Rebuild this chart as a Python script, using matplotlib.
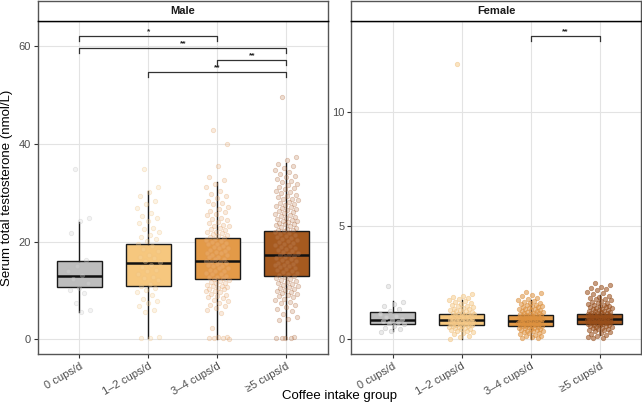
import matplotlib
matplotlib.use("Agg")
import matplotlib.pyplot as plt
import numpy as np

plt.rcParams['font.family'] = ['Liberation Sans', 'DejaVu Sans']

groups = ["0 cups/d", "1\u20132 cups/d", "3\u20134 cups/d", "\u22655 cups/d"]
panels = ["Male", "Female"]

# box statistics: (whislo, q1, med, q3, whishi)
male_box = [(5.6, 10.6, 12.9, 16.0, 24.0),
            (0.2, 11.0, 15.7, 19.4, 30.4),
            (0.1, 12.3, 15.95, 20.65, 32.2),
            (0.1, 12.95, 17.2, 22.2, 36.0)]
female_box = [(0.36, 0.66, 0.85, 1.20, 1.68),
              (0.01, 0.64, 0.85, 1.10, 1.73),
              (0.0, 0.60, 0.82, 1.07, 1.73),
              (0.19, 0.67, 0.88, 1.10, 1.95)]

# individual points (y values) read approximately
male_pts_0 = [34.8, 24.8, 24.3, 21.8, 16.2, 15.0, 13.9, 13.1, 12.4, 11.5, 10.5, 10.1, 9.4, 7.4, 6.1, 5.6]
male_pts_1 = [34.8, 31.2, 30.1, 29.4, 28.3, 27.6, 26.9, 25.8, 25.3, 24.9, 24.1, 23.7, 22.8, 22.5, 21.9,
              21.4, 20.9, 20.6, 20.1, 19.5, 19.1, 18.4, 18.0, 17.3, 16.9, 16.6, 16.1, 15.8, 15.1, 14.7,
              14.2, 13.9, 13.3, 12.8, 12.6, 12.1, 11.4, 10.9, 10.4, 10.1, 9.6, 9.1, 8.3, 7.9, 7.4,
              6.8, 6.1, 5.6, 0.4, 0.3, 0.2]
male_pts_2 = [42.8, 39.9, 35.4, 33.1, 32.6, 31.7, 31.1, 30.3, 29.8, 29.4, 28.9, 28.3, 27.8, 27.6, 27.1,
              26.7, 26.3, 26.1, 25.6, 25.4, 24.9, 24.6, 24.5, 24.0, 23.8, 23.4, 23.2, 23.1, 22.7, 22.6,
              22.3, 22.0, 21.9, 21.7, 21.5, 21.3, 21.1, 20.9, 20.8, 20.5, 20.3, 20.2, 19.9, 19.8, 19.5,
              19.4, 19.1, 18.9, 18.7, 18.6, 18.3, 18.1, 17.9, 17.7, 17.6, 17.3, 17.2, 16.9, 16.8, 16.5,
              16.4, 16.1, 15.9, 15.8, 15.6, 15.4, 15.2, 15.0, 14.9, 14.6, 14.5, 14.2, 14.0, 13.9, 13.6,
              13.4, 13.3, 13.0, 12.8, 12.7, 12.5, 12.3, 12.1, 11.9, 11.8, 11.6, 11.5, 11.2, 11.0, 10.9,
              10.7, 10.5, 10.3, 10.2, 9.9, 9.8, 9.6, 9.3, 9.1, 8.9, 8.6, 8.4, 8.1, 7.8, 7.5, 7.1, 6.8,
              6.4, 6.0, 5.4, 2.3, 0.5, 0.4, 0.3, 0.2, 0.2, 0.1]
male_pts_3 = [49.6, 37.3, 36.6, 35.9, 35.4, 35.1, 34.6, 34.2, 33.9, 33.5, 33.1, 32.8, 32.4, 32.1, 31.8,
              31.5, 31.2, 30.9, 30.7, 30.4, 30.1, 29.9, 29.6, 29.3, 29.1, 28.8, 28.6, 28.4, 28.1, 27.9,
              27.7, 27.5, 27.2, 27.0, 26.8, 26.6, 26.4, 26.2, 26.0, 25.8, 25.6, 25.4, 25.2, 25.1, 24.9,
              24.7, 24.5, 24.3, 24.2, 24.0, 23.8, 23.6, 23.5, 23.3, 23.1, 22.9, 22.8, 22.6, 22.4, 22.3,
              22.1, 21.9, 21.7, 21.5, 21.3, 21.1, 20.9, 20.7, 20.5, 20.3, 20.1, 19.9, 19.7, 19.5, 19.3,
              19.1, 18.9, 18.7, 18.5, 18.3, 18.1, 17.9, 17.7, 17.5, 17.3, 17.1, 16.9, 16.7, 16.5, 16.3,
              16.1, 15.9, 15.7, 15.5, 15.3, 15.1, 14.9, 14.7, 14.5, 14.3, 14.1, 13.9, 13.7, 13.5, 13.3,
              13.1, 12.9, 12.7, 12.5, 12.3, 12.1, 11.9, 11.7, 11.5, 11.3, 11.1, 10.9, 10.7, 10.5, 10.3,
              10.1, 9.9, 9.7, 9.5, 9.3, 9.1, 8.9, 8.6, 8.3, 8.0, 7.7, 7.4, 7.0, 6.6, 6.2, 5.7, 5.2, 4.6,
              4.1, 3.9, 0.4, 0.3, 0.3, 0.2, 0.2]
female_pts_0 = [2.36, 1.62, 1.55, 1.45, 1.31, 1.22, 1.12, 1.02, 0.96, 0.91, 0.86, 0.81, 0.76, 0.71,
                0.66, 0.57, 0.51, 0.45, 0.38, 0.33]
female_pts_1 = [12.1, 2.01, 1.92, 1.86, 1.81, 1.76, 1.71, 1.66, 1.62, 1.58, 1.54, 1.51, 1.47, 1.44,
                1.41, 1.38, 1.35, 1.32, 1.29, 1.27, 1.24, 1.22, 1.19, 1.17, 1.15, 1.13, 1.11, 1.09,
                1.07, 1.05, 1.03, 1.01, 0.99, 0.97, 0.95, 0.94, 0.92, 0.90, 0.89, 0.87, 0.86, 0.84,
                0.83, 0.81, 0.80, 0.78, 0.77, 0.75, 0.74, 0.72, 0.71, 0.69, 0.68, 0.66, 0.65, 0.63,
                0.61, 0.60, 0.58, 0.56, 0.54, 0.52, 0.50, 0.48, 0.46, 0.44, 0.41, 0.38, 0.35, 0.31,
                0.27, 0.22, 0.16, 0.08, 0.02]
female_pts_2 = [2.09, 2.05, 1.96, 1.88, 1.82, 1.77, 1.72, 1.68, 1.64, 1.61, 1.58, 1.55, 1.52, 1.49,
                1.47, 1.44, 1.42, 1.40, 1.37, 1.35, 1.33, 1.31, 1.29, 1.27, 1.25, 1.23, 1.21, 1.19,
                1.17, 1.16, 1.14, 1.12, 1.10, 1.09, 1.07, 1.06, 1.04, 1.03, 1.01, 1.00, 0.98, 0.97,
                0.95, 0.94, 0.93, 0.91, 0.90, 0.89, 0.87, 0.86, 0.85, 0.83, 0.82, 0.81, 0.79, 0.78,
                0.77, 0.75, 0.74, 0.73, 0.71, 0.70, 0.69, 0.67, 0.66, 0.65, 0.63, 0.62, 0.60, 0.59,
                0.57, 0.56, 0.54, 0.53, 0.51, 0.49, 0.48, 0.46, 0.44, 0.42, 0.40, 0.38, 0.36, 0.34,
                0.31, 0.29, 0.26, 0.23, 0.20, 0.16, 0.12, 0.08, 0.05, 0.04]
female_pts_3 = [2.46, 2.38, 2.31, 2.26, 2.21, 2.15, 2.09, 2.03, 1.97, 1.92, 1.87, 1.83, 1.79, 1.75,
                1.71, 1.67, 1.64, 1.61, 1.58, 1.55, 1.52, 1.49, 1.47, 1.44, 1.42, 1.40, 1.38, 1.36,
                1.34, 1.32, 1.30, 1.28, 1.26, 1.24, 1.22, 1.20, 1.19, 1.17, 1.15, 1.14, 1.12, 1.11,
                1.09, 1.08, 1.06, 1.05, 1.03, 1.02, 1.01, 0.99, 0.98, 0.97, 0.95, 0.94, 0.93, 0.92,
                0.90, 0.89, 0.88, 0.87, 0.85, 0.84, 0.83, 0.82, 0.80, 0.79, 0.78, 0.76, 0.75, 0.74,
                0.72, 0.71, 0.70, 0.68, 0.67, 0.65, 0.64, 0.62, 0.61, 0.59, 0.57, 0.55, 0.53, 0.51,
                0.49, 0.47, 0.45, 0.42, 0.39, 0.36, 0.33, 0.29, 0.25, 0.20, 0.14, 0.09, 0.06, 0.04]

male_pts = [male_pts_0, male_pts_1, male_pts_2, male_pts_3]
female_pts = [female_pts_0, female_pts_1, female_pts_2, female_pts_3]

# significance brackets: (group i, group j, y, label)
male_sig = [(0, 2, 62.0, "*"), (0, 3, 59.5, "**"), (2, 3, 57.05, "**"), (1, 3, 54.6, "**")]
female_sig = [(2, 3, 13.34, "**")]

box_colors = ["#BDBDBD", "#F6C77E", "#E39A48", "#A65A1F"]
pt_edge = [["#B8B8B8", "#EDBB78", "#E09858", "#A65C30"],
           ["#C0C0C0", "#F0C080", "#DC903E", "#95501E"]]
pt_face = [["#DADADA", "#F6D8A8", "#EDBC90", "#C89068"],
           ["#DCDCDC", "#F6CF90", "#DE9240", "#9A4C18"]]

W, H = 642, 411
fig = plt.figure(figsize=(W / 100, H / 100), dpi=100)

panel_px = [(38.0, 327.7), (351.3, 641.0)]
top_px, bot_px = 21.0, 354.0
ylims = [(-3.0, 65.1), (-0.65, 14.0)]
yticks = [[0, 20, 40, 60], [0, 5, 10]]
boxes = [male_box, female_box]
pts = [male_pts, female_pts]
sigs = [male_sig, female_sig]
tick_h = [1.0, 0.22]
pt_alpha = [0.3, 0.55]
pt_spread = [0.34, 0.36]

for p in range(2):
    x0, x1 = panel_px[p]
    ax = fig.add_axes([x0 / W, 1 - bot_px / H, (x1 - x0) / W, (bot_px - top_px) / H])
    ax.set_facecolor("white")
    for s in ax.spines.values():
        s.set_color("#555555")
        s.set_linewidth(1.0)
    ax.grid(True, color="#E3E3E3", linewidth=0.8, zorder=0)
    ax.set_axisbelow(True)

    stats = []
    for (lo, q1, med, q3, hi) in boxes[p]:
        stats.append(dict(whislo=lo, q1=q1, med=med, q3=q3, whishi=hi, fliers=[]))
    bp = ax.bxp(stats, positions=range(1, 5), widths=0.65, patch_artist=True,
                showfliers=False, showcaps=False, manage_ticks=False,
                boxprops=dict(linewidth=1.0, edgecolor="#1A1A1A"),
                whiskerprops=dict(linewidth=1.0, color="#1A1A1A"),
                medianprops=dict(linewidth=1.8, color="#111111"))
    for patch, c in zip(bp["boxes"], box_colors):
        patch.set_facecolor(c)
        patch.set_zorder(2)
    for ln in bp["whiskers"] + bp["medians"]:
        ln.set_zorder(2.5)

    for g in range(4):
        ys = np.array(pts[p][g])
        n = len(ys)
        off = ((np.arange(n) * 0.6180339887 + 0.3) % 1.0 - 0.5) * pt_spread[p]
        ax.scatter(g + 1 + off, ys, s=10, marker="o", facecolor=pt_face[p][g],
                   edgecolor=pt_edge[p][g], linewidths=0.6, alpha=pt_alpha[p], zorder=3)

    th = tick_h[p]
    for (i, j, y, lab) in sigs[p]:
        ax.plot([i + 1, i + 1, j + 1, j + 1], [y - th, y, y, y - th],
                color="#333333", linewidth=0.9, zorder=4, clip_on=False)
        ax.text((i + j) / 2 + 1, y + th * 0.15, lab, ha="center", va="bottom",
                fontsize=6, fontweight="bold", color="#222222")

    ax.set_xlim(0.4, 4.6)
    ax.set_ylim(*ylims[p])
    ax.set_xticks(range(1, 5))
    ax.set_xticklabels(groups, rotation=30, ha="right", rotation_mode="anchor",
                       fontsize=8, color="#4D4D4D")
    ax.set_yticks(yticks[p])
    ax.set_yticklabels([str(v) for v in yticks[p]], fontsize=8, color="#4D4D4D")
    ax.tick_params(axis="both", length=3, width=0.8, color="#333333", pad=2)

    # strip
    sax = fig.add_axes([x0 / W, 1 - top_px / H, (x1 - x0) / W, 20 / H])
    sax.set_xticks([])
    sax.set_yticks([])
    sax.set_facecolor("white")
    for k, s in sax.spines.items():
        s.set_color("#555555")
        s.set_linewidth(1.0)
    sax.spines["bottom"].set_color("#000000")
    sax.text(0.5, 0.5, panels[p], ha="center", va="center", fontsize=8,
             fontweight="bold", color="#1A1A1A", transform=sax.transAxes)

    if p == 0:
        ax.set_ylabel("Serum total testosterone (nmol/L)", fontsize=9.5, color="black",
                      labelpad=4)

fig.text(339 / W, 1 - 396 / H, "Coffee intake group", ha="center", va="center",
         fontsize=9.5, color="black")

fig.savefig("out.png", dpi=100)
